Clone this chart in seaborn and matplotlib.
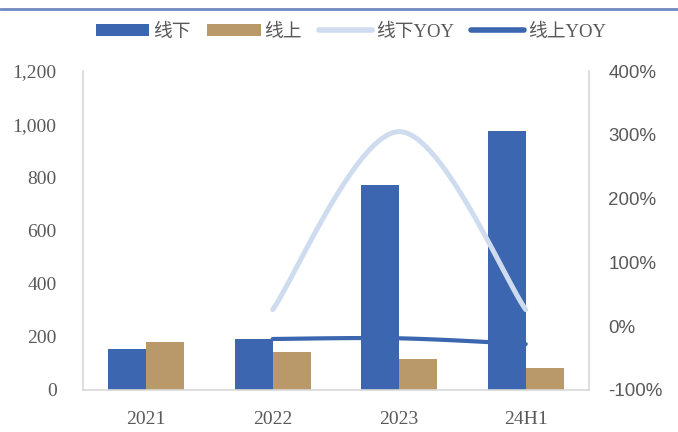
import numpy as np
import pandas as pd
import matplotlib
matplotlib.use("Agg")
import matplotlib.pyplot as plt
from matplotlib.patches import Patch
from matplotlib.lines import Line2D
from matplotlib.ticker import FuncFormatter, MultipleLocator
import seaborn as sns

# Channel revenue by period
periods = ["2021", "2022", "2023", "24H1"]
offline = [155, 193, 771, 974]
online = [180, 144, 117, 84]
# Year-over-year growth (%), starting from 2022
yoy_periods = ["2022", "2023", "24H1"]
offline_yoy = [26, 305, 26]
online_yoy = [-20, -19, -28]

BLUE = "#3C66B0"
TAN = "#B9986A"
LIGHT = "#CFDCF0"
AXIS_GRAY = "#D9D9D9"
TEXT_GRAY = "#595959"

sns.set_theme(style="white")
plt.rcParams["font.family"] = ["Liberation Serif", "Noto Sans CJK SC", "DejaVu Sans"]

df = pd.DataFrame({
    "period": periods * 2,
    "value": offline + online,
    "channel": ["线下"] * len(periods) + ["线上"] * len(periods),
})

fig = plt.figure(figsize=(6.78, 4.32), dpi=100)
ax = fig.add_axes([83 / 678, 42 / 432, 506 / 678, 319 / 432])

sns.barplot(data=df, x="period", y="value", hue="channel", order=periods,
            hue_order=["线下", "线上"], palette=[BLUE, TAN], width=0.6,
            saturation=1, edgecolor="none", linewidth=0, legend=False, ax=ax)

ax.set_xlim(-0.5, len(periods) - 0.5)
ax.set_ylim(0, 1200)
ax.yaxis.set_major_locator(MultipleLocator(200))
ax.yaxis.set_major_formatter(FuncFormatter(lambda v, p: f"{v:,.0f}"))
ax.set_xlabel("")
ax.set_ylabel("")
ax.tick_params(axis="both", length=0, labelsize=14, colors=TEXT_GRAY)
ax.tick_params(axis="x", pad=15)
ax.tick_params(axis="y", pad=19)
for side in ["top", "right"]:
    ax.spines[side].set_visible(False)
for side in ["left", "bottom"]:
    ax.spines[side].set_color(AXIS_GRAY)
    ax.spines[side].set_linewidth(1.2)

ax2 = ax.twinx()
ax2.set_ylim(-100, 400)
ax2.yaxis.set_major_locator(MultipleLocator(100))
ax2.yaxis.set_major_formatter(FuncFormatter(lambda v, p: f"{v:.0f}%"))
ax2.tick_params(axis="y", length=0, labelsize=13.5, colors=TEXT_GRAY, pad=14)
for lab in ax2.get_yticklabels():
    lab.set_family(["Liberation Sans", "DejaVu Sans"])
for side in ["top", "left", "bottom"]:
    ax2.spines[side].set_visible(False)
ax2.spines["right"].set_color(AXIS_GRAY)
ax2.spines["right"].set_linewidth(1.2)


def smooth(xs, ys, n=60):
    """Catmull-Rom style cubic Bezier through the points (Excel smoothed line)."""
    xs = np.asarray(xs, float)
    ys = np.asarray(ys, float)
    px = np.concatenate([[xs[0]], xs, [xs[-1]]])
    py = np.concatenate([[ys[0]], ys, [ys[-1]]])
    out_x, out_y = [], []
    t = np.linspace(0, 1, n)
    for i in range(1, len(px) - 2):
        p0 = np.array([px[i], py[i]])
        p3 = np.array([px[i + 1], py[i + 1]])
        c1 = p0 + (np.array([px[i + 1], py[i + 1]]) - np.array([px[i - 1], py[i - 1]])) / 6
        c2 = p3 - (np.array([px[i + 2], py[i + 2]]) - np.array([px[i], py[i]])) / 6
        b = ((1 - t) ** 3)[:, None] * p0 + (3 * (1 - t) ** 2 * t)[:, None] * c1 \
            + (3 * (1 - t) * t ** 2)[:, None] * c2 + (t ** 3)[:, None] * p3
        out_x.extend(b[:, 0])
        out_y.extend(b[:, 1])
    return np.array(out_x), np.array(out_y)


yoy_x = [periods.index(p) for p in yoy_periods]
sx, sy = smooth(yoy_x, offline_yoy)
ax2.plot(sx, sy, color=LIGHT, lw=3.6, solid_capstyle="round")
sx, sy = smooth(yoy_x, online_yoy)
ax2.plot(sx, sy, color=BLUE, lw=3.0, solid_capstyle="round")

# Thin rule across the top of the figure
fig.add_artist(Line2D([0, 1], [1 - 9 / 432, 1 - 9 / 432], transform=fig.transFigure,
                      color="#7089C2", lw=2))

handles = [
    Patch(facecolor=BLUE, edgecolor="none"),
    Patch(facecolor=TAN, edgecolor="none"),
    Line2D([0], [0], color=LIGHT, lw=4, solid_capstyle="round"),
    Line2D([0], [0], color=BLUE, lw=4, solid_capstyle="round"),
]
labels = ["线下", "线上", "线下YOY", "线上YOY"]
leg = fig.legend(handles, labels, loc="center", bbox_to_anchor=(351 / 678, 1 - 32 / 432),
                 ncol=4, frameon=False, fontsize=13.5, handlelength=2.85,
                 handleheight=0.6, handletextpad=0.2, columnspacing=0.9,
                 borderpad=0, borderaxespad=0)
for t in leg.get_texts():
    t.set_color(TEXT_GRAY)

fig.savefig("out.png", dpi=100)
